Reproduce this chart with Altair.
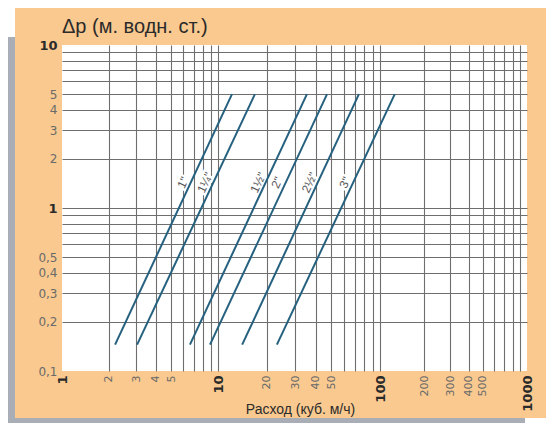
import altair as alt
import pandas as pd

# ---------------- data ----------------
sizes = ['1"', '1¼"', '1½"', '2"', '2½"', '3"']
q_low = [2.19, 3.03, 6.61, 8.89, 14.1, 23.1]      # flow at the low end of each line
q_high = [12.2, 16.9, 35.4, 47.1, 74.1, 126.0]    # flow at the high end of each line
dp_low = [0.145, 0.145, 0.145, 0.145, 0.145, 0.145]
dp_high = [5.0, 5.0, 5.0, 5.0, 5.0, 5.0]

label_q = [5.97, 8.25, 17.7, 23.1, 36.7, 60.8]
label_dp = [1.43, 1.43, 1.43, 1.43, 1.43, 1.43]

x_grid = [1, 2, 3, 4, 5, 6, 7, 8, 9, 10, 20, 30, 40, 50, 60, 70, 80, 90,
          100, 200, 300, 400, 500, 600, 700, 800, 900, 1000]
x_labels = [1, 2, 3, 4, 5, 10, 20, 30, 40, 50, 100, 200, 300, 400, 500, 1000]
x_bold = [1, 10, 100, 1000]
y_grid = [0.1, 0.2, 0.3, 0.4, 0.5, 0.6, 0.7, 0.8, 0.9,
          1, 2, 3, 4, 5, 6, 7, 8, 9, 10]
y_labels = [0.1, 0.2, 0.3, 0.4, 0.5, 1, 2, 3, 4, 5, 10]
y_bold = [1, 10]

title_text = "Δp (м. водн. ст.)"
x_title = "Расход (куб. м/ч)"

# ---------------- tables ----------------
rows = []
for s, a, b, c, d in zip(sizes, q_low, q_high, dp_low, dp_high):
    rows.append({"size": s, "q": a, "dp": c})
    rows.append({"size": s, "q": b, "dp": d})
lines_df = pd.DataFrame(rows)
labels_df = pd.DataFrame({"size": sizes, "q": label_q, "dp": label_dp})
title_df = pd.DataFrame({"t": [title_text]})
one_df = pd.DataFrame({"a": [0]})

W, H = 465, 326
GRID = "#6e6e6e"


def in_list(vals):
    return "indexof([" + ",".join(str(v) for v in vals) + "], datum.value) >= 0"


x_scale = alt.Scale(type="log", domain=[1, 10, 100, 1000], range=[0, 156, 318, W], nice=False)
y_scale = alt.Scale(type="log", domain=[0.1, 10], nice=False)

x_axis = alt.Axis(
    values=x_grid, format="d",
    labelExpr=in_list(x_labels) + " ? datum.label : ''",
    labelAngle=270, labelAlign="right", labelBaseline="middle",
    labelPadding=4, labelOverlap=False, labelFlush=False,
    labelFont="DejaVu Sans",
    labelFontSize={"condition": {"test": in_list(x_bold), "value": 13}, "value": 11},
    labelFontWeight={"condition": {"test": in_list(x_bold), "value": "bold"}, "value": "normal"},
    labelColor={"condition": {"test": in_list(x_bold), "value": "#2a2a2a"}, "value": "#6a6a6a"},
    ticks=False, domain=False,
    grid=True, gridColor=GRID, gridWidth=1.1,
    gridOpacity={"condition": {"test": "datum.value <= 1 || datum.value >= 1000", "value": 0}, "value": 1},
    title=x_title, titleFont="Liberation Sans Narrow, Liberation Sans", titleFontSize=14,
    titleFontWeight="normal", titleColor="#2b2b2b",
    titleX=238, titleY=42, titleAlign="center", titleBaseline="alphabetic",
)

y_axis = alt.Axis(
    values=y_grid, format="~g",
    labelExpr=in_list(y_labels) + " ? replace(datum.label, '.', ',') : ''",
    labelPadding=5, labelOverlap=False, labelFlush=False,
    labelFont="DejaVu Sans",
    labelFontSize={"condition": {"test": in_list(y_bold), "value": 13}, "value": 12},
    labelFontWeight={"condition": {"test": in_list(y_bold), "value": "bold"}, "value": "normal"},
    labelColor={"condition": {"test": in_list(y_bold), "value": "#2a2a2a"}, "value": "#6a6a6a"},
    ticks=False, domain=False,
    grid=True, gridColor=GRID, gridWidth=1.1,
    gridOpacity={"condition": {"test": "datum.value <= 0.1 || datum.value >= 10", "value": 0}, "value": 1},
    title=None,
)

X = alt.X("q:Q", scale=x_scale, axis=x_axis)
Y = alt.Y("dp:Q", scale=y_scale, axis=y_axis)

# decorations: gray shadow strip to the left and below the orange panel
white_corner = alt.Chart(one_df).mark_rect(color="white").encode(
    x=alt.value(-54), x2=alt.value(-47), y=alt.value(-37), y2=alt.value(-8))
gray_strip = alt.Chart(one_df).mark_rect(color="#a9aeb6").encode(
    x=alt.value(-54), x2=alt.value(-47), y=alt.value(-8), y2=alt.value(378))
gray_bottom = alt.Chart(one_df).mark_rect(color="#a9aeb6").encode(
    x=alt.value(-54), x2=alt.value(463), y=alt.value(373), y2=alt.value(378))
white_bottom = alt.Chart(one_df).mark_rect(color="white").encode(
    x=alt.value(463), x2=alt.value(490), y=alt.value(373), y2=alt.value(378))

label_font = "Liberation Sans Narrow, Liberation Sans"
halo = alt.Chart(labels_df).mark_text(
    angle=295, align="center", baseline="middle", font=label_font, fontSize=12,
    stroke="white", strokeWidth=5, color="white").encode(x=X, y=Y, text="size:N")

lines = alt.Chart(lines_df).mark_line(color="#25617f", strokeWidth=2).encode(
    x=X, y=Y, detail="size:N")

labels = alt.Chart(labels_df).mark_text(
    angle=295, align="center", baseline="middle", font=label_font, fontSize=12,
    color="#555555").encode(x=X, y=Y, text="size:N")

title = alt.Chart(title_df).mark_text(
    align="left", baseline="alphabetic", font="Liberation Sans", fontSize=20,
    color="#2b2b2b").encode(x=alt.value(0), y=alt.value(-12), text="t:N")

chart = alt.layer(white_corner, gray_strip, gray_bottom, white_bottom,
                  halo, lines, labels, title).properties(
    width=W, height=H,
    background="#f9c98f",
    autosize=alt.AutoSizeParams(type="none"),
    padding={"left": 54, "top": 37, "right": 19, "bottom": 52},
).configure_view(fill="white", strokeWidth=0)

chart.save("out.html", embed_options={"renderer": "svg", "actions": False})
